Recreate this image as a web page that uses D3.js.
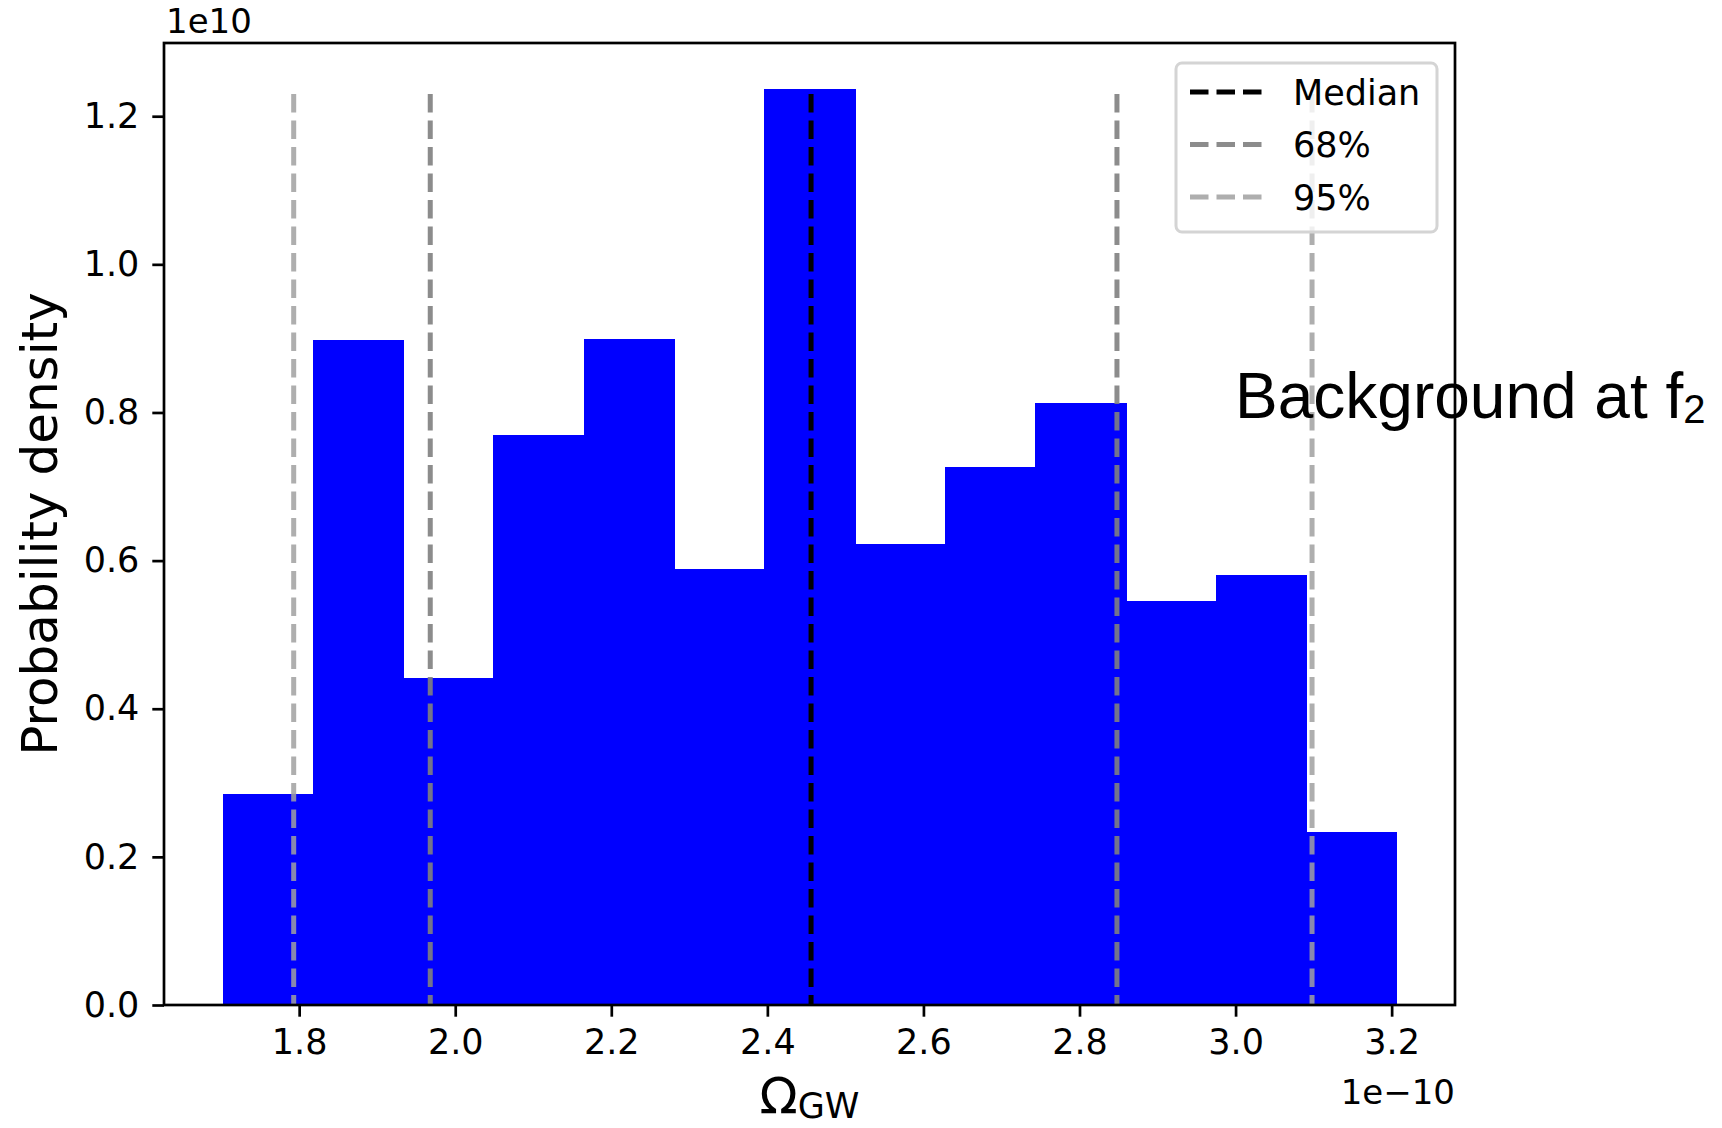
<!DOCTYPE html>
<html>
<head>
<meta charset="utf-8">
<script src="https://cdn.jsdelivr.net/npm/d3@7"></script>
<style>
  body { margin: 0; background: #fff; }
  svg { display: block; }
</style>
</head>
<body>
<div id="chart"></div>
<script>
// Histogram bin edges (units of 1e-10) and densities (units of 1e10)
const binEdges = [1.702, 1.818, 1.933, 2.049, 2.165, 2.280, 2.396, 2.512, 2.628, 2.743, 2.859, 2.975, 3.090, 3.206];
const densities = [0.285, 0.898, 0.441, 0.770, 0.899, 0.588, 1.237, 0.623, 0.727, 0.813, 0.545, 0.580, 0.234];

// Vertical reference lines
const lineNames = ["Median", "68%", "68%", "95%", "95%"];
const lineValues = [2.456, 1.968, 2.848, 1.793, 3.098];
const lineTop = 1.23;

const legendNames = ["Median", "68%", "95%"];
const xTicks = [1.8, 2.0, 2.2, 2.4, 2.6, 2.8, 3.0, 3.2];
const yTicks = [0.0, 0.2, 0.4, 0.6, 0.8, 1.0, 1.2];

const lineStyle = {
  "Median": { color: "#000000", opacity: 1 },
  "68%": { color: "#808080", opacity: 0.9 },
  "95%": { color: "#a0a0a0", opacity: 0.85 }
};

function init() {
  const W = 1722, H = 1128;
  const margin = { top: 43, right: 267, bottom: 123, left: 164 };
  const width = W - margin.left - margin.right;
  const height = H - margin.top - margin.bottom;

  const svg = d3.select("#chart").append("svg")
    .attr("width", W)
    .attr("height", H)
    .attr("font-family", "DejaVu Sans, sans-serif");

  const g = svg.append("g")
    .attr("transform", `translate(${margin.left},${margin.top})`);

  // matplotlib style 5% margins
  const lo = binEdges[0], hi = binEdges[binEdges.length - 1];
  const pad = (hi - lo) * 0.05;
  const x = d3.scaleLinear().domain([lo - pad, hi + pad]).range([0, width]);
  const y = d3.scaleLinear().domain([0, d3.max(densities) * 1.05]).range([height, 0]);

  // Bars
  g.selectAll(".bar")
    .data(densities)
    .enter().append("rect")
      .attr("class", "bar")
      .attr("x", (d, i) => x(binEdges[i]))
      .attr("width", (d, i) => x(binEdges[i + 1]) - x(binEdges[i]) + 1)
      .attr("y", d => y(d))
      .attr("height", d => height - y(d))
      .attr("fill", "#0000ff")
      .attr("shape-rendering", "crispEdges");

  // Dashed vertical lines
  g.selectAll(".vline")
    .data(lineValues)
    .enter().append("line")
      .attr("class", "vline")
      .attr("x1", d => x(d))
      .attr("x2", d => x(d))
      .attr("y1", y(lineTop))
      .attr("y2", y(0))
      .attr("stroke", (d, i) => lineStyle[lineNames[i]].color)
      .attr("stroke-opacity", (d, i) => lineStyle[lineNames[i]].opacity)
      .attr("stroke-width", 5)
      .attr("stroke-dasharray", "18.5,8");

  // Annotation text (drawn before spines so the spine crosses it)
  const ann = svg.append("text")
    .attr("x", 1235)
    .attr("y", 418)
    .attr("font-family", "Liberation Sans, Arial, sans-serif")
    .attr("font-size", 64)
    .attr("fill", "#000");
  ann.append("tspan").text("Background at f");
  ann.append("tspan").attr("font-size", 40).attr("dy", 5).text("2");

  // Axes
  const xAxis = d3.axisBottom(x).tickValues(xTicks).tickFormat(d3.format(".1f"))
    .tickSize(11.7).tickPadding(12);
  const yAxis = d3.axisLeft(y).tickValues(yTicks).tickFormat(d3.format(".1f"))
    .tickSize(11.7).tickPadding(13);

  const gx = g.append("g")
    .attr("transform", `translate(0,${height})`)
    .call(xAxis);
  const gy = g.append("g").call(yAxis);

  [gx, gy].forEach(ax => {
    ax.select(".domain").remove();
    ax.selectAll(".tick line").attr("stroke", "#000").attr("stroke-width", 2.7);
    ax.selectAll(".tick text")
      .attr("font-family", "DejaVu Sans, sans-serif")
      .attr("font-size", 35)
      .attr("fill", "#000");
  });
  gx.selectAll(".tick text").attr("dy", "0.72em");

  // Spines
  g.append("rect")
    .attr("x", 0).attr("y", 0)
    .attr("width", width).attr("height", height)
    .attr("fill", "none")
    .attr("stroke", "#000")
    .attr("stroke-width", 2.7);

  // Offset texts
  svg.append("text")
    .attr("x", 166).attr("y", 33)
    .attr("font-size", 34)
    .text("1e10");
  svg.append("text")
    .attr("x", margin.left + width).attr("y", 1104)
    .attr("text-anchor", "end")
    .attr("font-size", 34)
    .text("1e\u221210");

  // Axis labels
  svg.append("text")
    .attr("transform", `translate(57,${margin.top + height / 2}) rotate(-90)`)
    .attr("text-anchor", "middle")
    .attr("font-size", 50)
    .text("Probability density");

  const xl = svg.append("text")
    .attr("x", margin.left + width / 2)
    .attr("y", 1113)
    .attr("text-anchor", "middle")
    .attr("font-size", 50);
  xl.append("tspan").text("\u03A9");
  xl.append("tspan").attr("font-size", 35).attr("dy", 5).text("GW");

  // Legend
  const leg = svg.append("g");
  leg.append("rect")
    .attr("x", 1176).attr("y", 63)
    .attr("width", 261).attr("height", 169)
    .attr("rx", 6)
    .attr("fill", "#ffffff")
    .attr("fill-opacity", 0.8)
    .attr("stroke", "#d4d4d4")
    .attr("stroke-width", 3);

  const rows = leg.selectAll(".row")
    .data(legendNames)
    .enter().append("g")
      .attr("class", "row")
      .attr("transform", (d, i) => `translate(0,${92 + i * 52.5})`);

  rows.append("line")
    .attr("x1", 1190).attr("x2", 1262)
    .attr("y1", 0).attr("y2", 0)
    .attr("stroke", d => lineStyle[d].color)
    .attr("stroke-opacity", d => lineStyle[d].opacity)
    .attr("stroke-width", 5)
    .attr("stroke-dasharray", "18.5,8");

  rows.append("text")
    .attr("x", 1293)
    .attr("y", 12.5)
    .attr("font-size", 35)
    .text(d => d);
}

window.onload = init;
</script>
</body>
</html>
